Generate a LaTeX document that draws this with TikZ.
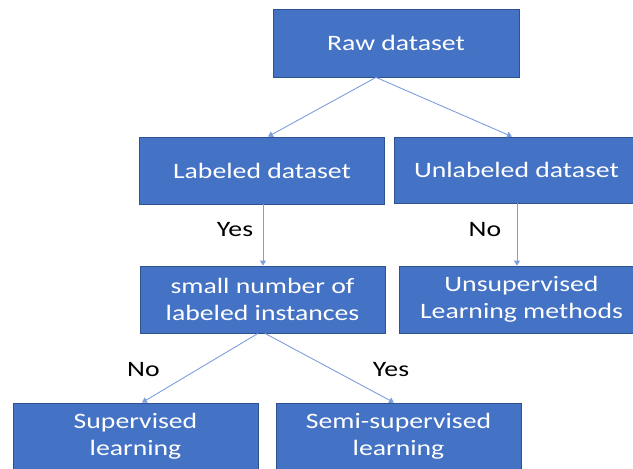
\documentclass[tikz,border=0pt]{standalone}
\usepackage{fontspec}
\setmainfont[FakeStretch=1.26]{Carlito}
\usepackage{tikz}
\usetikzlibrary{arrows.meta}
\definecolor{kutuMavi}{HTML}{4472C4}
\definecolor{kenarMavi}{HTML}{2F528F}
\definecolor{okMavi}{HTML}{7C9FDC}

\begin{document}
\begin{tikzpicture}[x=1pt,y=-1pt,
  kutu/.style={draw=kenarMavi,line width=0.8pt,fill=kutuMavi,text=white,
    minimum width=245pt,minimum height=67pt,inner sep=0pt,align=center,
    font=\fontsize{22}{27}\selectfont},
  ok/.style={draw=okMavi,line width=0.9pt,-{Triangle[length=5pt,width=6pt]}},
  etiket/.style={anchor=base,font=\fontsize{22}{27}\selectfont}]
\useasboundingbox (0,0) rectangle (633,469);
% kutular
\node[kutu,minimum width=246pt,minimum height=68pt] (raw) at (396,43) {Raw dataset};
\node[kutu] (lab) at (262,170.5) {Labeled dataset};
\node[kutu,minimum height=66pt] (unlab) at (516.5,170) {Unlabeled dataset};
\node[kutu] (small) at (262.5,299.5) {small number of\\labeled instances};
\node[kutu] (unsup) at (521.5,299.5) {Unsupervised\\Learning methods};
\node[kutu] (sup) at (135.5,436.5) {Supervised\\learning};
\node[kutu] (semi) at (398.5,436.5) {Semi-supervised\\learning};
% oklar
\draw[ok] ([xshift=-20pt]raw.south) -- ([xshift=6pt]lab.north);
\draw[ok] ([xshift=-20pt]raw.south) -- ([xshift=-4.5pt]unlab.north);
\draw[ok] ([xshift=1pt]lab.south) -- ([xshift=0.5pt]small.north);
\draw[ok] ([xshift=0.5pt]unlab.south) -- ([xshift=-4.5pt]unsup.north);
\draw[ok] ([xshift=-4.5pt]small.south) -- ([xshift=6.5pt]sup.north);
\draw[ok] ([xshift=2.5pt]small.south) -- ([xshift=-4.5pt]semi.north);
% etiketler
\node[etiket] (yes1) at (235,236) {Yes};
\node[etiket] (no1) at (485,236.5) {No};
\node[etiket] (no2) at (143.5,376.5) {No};
\node[etiket] (yes2) at (391,376.5) {Yes};
\end{tikzpicture}
\end{document}
